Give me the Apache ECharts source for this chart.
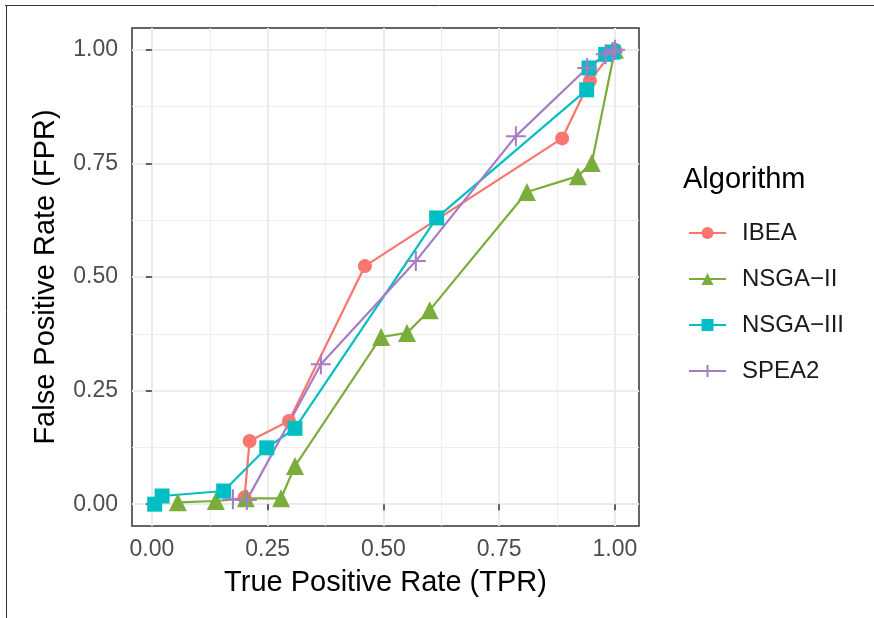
<!DOCTYPE html>
<html>
<head>
<meta charset="utf-8">
<script src="https://cdn.jsdelivr.net/npm/echarts@6/dist/echarts.min.js"></script>
<style>
  html, body { margin: 0; padding: 0; background: #fff; }
  #chart { width: 874px; height: 618px; }
</style>
</head>
<body>
<div id="chart"></div>
<script>
// axis ranges and ticks
const xRange = [-0.043, 1.052];
const yRange = [-0.048, 1.048];
const majorTicks = [0, 0.25, 0.5, 0.75, 1];
const minorTicks = [0.125, 0.375, 0.625, 0.875];

const algorithms = ["IBEA", "NSGA\u2212II", "NSGA\u2212III", "SPEA2"];

// TPR / FPR per algorithm
const ibeaX = [0.200, 0.211, 0.296, 0.460, 0.886, 0.946, 0.990, 1.000];
const ibeaY = [0.015, 0.139, 0.183, 0.524, 0.805, 0.932, 0.990, 1.000];

const nsga2X = [0.056, 0.138, 0.203, 0.279, 0.309, 0.495, 0.551, 0.600, 0.810, 0.920, 0.950, 1.000];
const nsga2Y = [0.004, 0.007, 0.013, 0.013, 0.084, 0.368, 0.377, 0.427, 0.687, 0.722, 0.751, 1.000];

const nsga3X = [0.006, 0.022, 0.155, 0.248, 0.309, 0.615, 0.939, 0.944, 0.980, 0.996];
const nsga3Y = [0.000, 0.018, 0.029, 0.124, 0.167, 0.630, 0.912, 0.960, 0.990, 0.995];

const spea2X = [0.175, 0.205, 0.365, 0.570, 0.786, 0.940, 0.980, 0.995, 1.000];
const spea2Y = [0.011, 0.009, 0.308, 0.535, 0.810, 0.960, 0.990, 0.995, 1.000];

const colors = ["#F8766D", "#7AAD3C", "#00BFC4", "#A87BC5"];
const FONT = "'Liberation Sans', Arial, sans-serif";

function pairs(xs, ys) {
  return xs.map((x, i) => [x, ys[i]]);
}

const chart = echarts.init(document.getElementById("chart"));

function makeSeries(name, xs, ys, color, symbol, size, extra) {
  return Object.assign({
    name: name,
    type: "line",
    data: pairs(xs, ys),
    symbol: symbol,
    symbolSize: size,
    showSymbol: true,
    lineStyle: { color: color, width: 2.2 },
    itemStyle: { color: color },
    emphasis: { disabled: true },
    animation: false,
    z: 3,
  }, extra || {});
}

let option = {
  backgroundColor: "#fff",
  textStyle: { fontFamily: FONT },
  grid: {
    left: 132,
    top: 28,
    width: 507,
    height: 498,
    show: true,
    borderColor: "#333",
    borderWidth: 1.5,
    backgroundColor: "transparent",
  },
  legend: {
    orient: "vertical",
    left: 683,
    top: 216,
    itemWidth: 37,
    itemHeight: 15,
    itemGap: 22,
    data: algorithms,
    textStyle: {
      fontSize: 24,
      lineHeight: 24,
      color: "#1a1a1a",
      fontFamily: FONT,
      padding: [0, 0, 0, 11],
    },
  },
  graphic: [
    {
      type: "text",
      left: 683,
      top: 165,
      style: { text: "Algorithm", font: "29px " + FONT, fill: "#000" },
    },
    {
      type: "line",
      shape: { x1: 5, y1: 5.5, x2: 874, y2: 5.5 },
      style: { stroke: "#333", lineWidth: 1 },
    },
    {
      type: "line",
      shape: { x1: 6.5, y1: 5, x2: 6.5, y2: 618 },
      style: { stroke: "#333", lineWidth: 1 },
    },
  ],
  xAxis: [
    {
      type: "value",
      min: xRange[0],
      max: xRange[1],
      position: "bottom",
      name: "True Positive Rate (TPR)",
      nameLocation: "middle",
      nameGap: 42,
      nameTextStyle: { fontSize: 29, color: "#000", fontFamily: FONT },
      axisLine: { show: false },
      axisTick: {
        show: true,
        customValues: majorTicks,
        length: 6,
        lineStyle: { color: "#333", width: 1.5 },
      },
      axisLabel: {
        customValues: majorTicks,
        formatter: (v) => v.toFixed(2),
        fontSize: 23,
        color: "#4D4D4D",
        margin: 12,
        fontFamily: FONT,
      },
      splitLine: { show: true, lineStyle: { color: "#EBEBEB", width: 2 } },
    },
    {
      type: "value",
      min: xRange[0],
      max: xRange[1],
      position: "top",
      axisLine: { show: false },
      axisTick: { show: false, customValues: minorTicks },
      axisLabel: { show: false, customValues: minorTicks },
      splitLine: { show: true, lineStyle: { color: "#EEEEEE", width: 1 } },
    },
  ],
  yAxis: [
    {
      type: "value",
      min: yRange[0],
      max: yRange[1],
      position: "left",
      name: "False Positive Rate (FPR)",
      nameLocation: "middle",
      nameGap: 72,
      nameTextStyle: { fontSize: 29, color: "#000", fontFamily: FONT },
      axisLine: { show: false },
      axisTick: {
        show: true,
        customValues: majorTicks,
        length: 6,
        lineStyle: { color: "#333", width: 1.5 },
      },
      axisLabel: {
        customValues: majorTicks,
        formatter: (v) => v.toFixed(2),
        fontSize: 23,
        color: "#4D4D4D",
        margin: 14,
        fontFamily: FONT,
      },
      splitLine: { show: true, lineStyle: { color: "#EBEBEB", width: 2 } },
    },
    {
      type: "value",
      min: yRange[0],
      max: yRange[1],
      position: "right",
      axisLine: { show: false },
      axisTick: { show: false, customValues: minorTicks },
      axisLabel: { show: false, customValues: minorTicks },
      splitLine: { show: true, lineStyle: { color: "#EEEEEE", width: 1 } },
    },
  ],
  series: [
    makeSeries(algorithms[0], ibeaX, ibeaY, colors[0], "circle", 14),
    makeSeries(algorithms[1], nsga2X, nsga2Y, colors[1], "triangle", 18),
    makeSeries(algorithms[2], nsga3X, nsga3Y, colors[2], "rect", 15),
    makeSeries(algorithms[3], spea2X, spea2Y, colors[3], "path://M5,0L5,10M0,5L10,5", 20, {
      itemStyle: { color: colors[3], borderColor: colors[3], borderWidth: 2 },
    }),
  ],
};

chart.setOption(option);
</script>
</body>
</html>
